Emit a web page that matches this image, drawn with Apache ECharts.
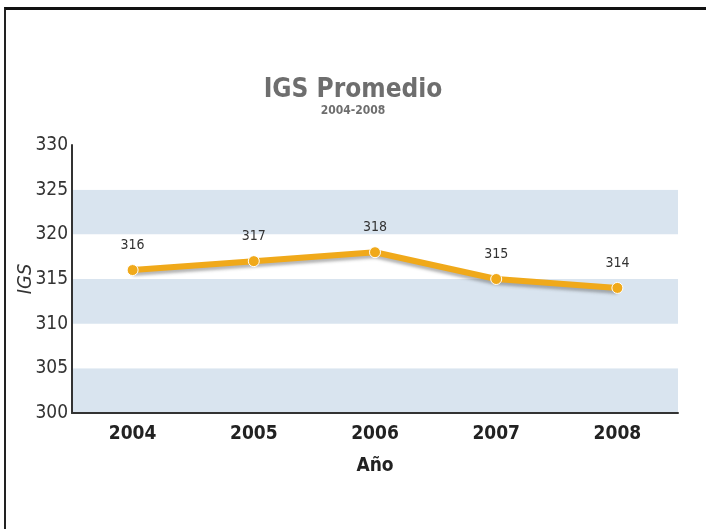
<!DOCTYPE html>
<html>
<head>
<meta charset="utf-8">
<script src="https://cdn.jsdelivr.net/npm/echarts@6/dist/echarts.min.js"></script>
<style>
  html, body { margin: 0; padding: 0; background: #fff; }
  #frame { position: absolute; left: 4px; top: 7px; width: 702px; height: 522px;
           border-top: 3px solid #111; border-left: 2px solid #222; box-sizing: border-box; }
  #chart { position: absolute; left: 0; top: 0; width: 706px; height: 529px; }
</style>
</head>
<body>
<div id="frame"></div>
<div id="chart"></div>
<script>
// datos del gráfico
const years = ['2004', '2005', '2006', '2007', '2008'];
const igs = [316, 317, 318, 315, 314];
const yMin = 300, yMax = 330, yStep = 5;

const narrow = "'DejaVu Sans Condensed', 'Liberation Sans Narrow', sans-serif";

const chart = echarts.init(document.getElementById('chart'));
chart.setOption({
  animation: false,
  title: {
    text: 'IGS Promedio',
    subtext: '2004-2008',
    left: 'center',
    top: 72,
    itemGap: 2,
    textStyle: { fontFamily: narrow, fontSize: 26, fontWeight: 'bold', color: '#6e6e6e' },
    subtextStyle: { fontFamily: narrow, fontSize: 12, fontWeight: 'bold', color: '#6e6e6e' }
  },
  grid: { left: 72, right: 28, top: 145, bottom: 116, outerBoundsMode: 'none' },
  xAxis: {
    type: 'category', data: years, boundaryGap: true,
    name: 'Año', nameLocation: 'middle', nameGap: 44,
    nameTextStyle: { fontFamily: narrow, fontSize: 19, fontWeight: 'bold', color: '#222' },
    axisLine: { lineStyle: { color: '#333', width: 2 } },
    axisTick: { show: false },
    axisLabel: { fontFamily: narrow, fontSize: 19, fontWeight: 'bold', color: '#222', margin: 12 }
  },
  yAxis: {
    type: 'value', min: yMin, max: yMax, interval: yStep,
    name: 'IGS', nameLocation: 'middle', nameGap: 36, nameRotate: 90, nameMoveOverlap: false,
    nameTextStyle: { fontFamily: narrow, fontSize: 20, fontStyle: 'italic', color: '#333' },
    axisLine: { show: true, lineStyle: { color: '#333', width: 2 } },
    axisTick: { show: false },
    axisLabel: { fontFamily: narrow, fontSize: 19, color: '#333', margin: 4 },
    splitLine: { show: false },
    splitArea: { show: true, areaStyle: { color: ['#d9e4ef', '#ffffff'] } }
  },
  series: [{
    type: 'line', data: igs,
    symbol: 'circle', symbolSize: 11,
    lineStyle: { color: '#f0a91a', width: 6, shadowColor: 'rgba(90,90,90,0.45)', shadowBlur: 3, shadowOffsetY: 3 },
    itemStyle: { color: '#f0a91a', borderColor: '#fff', borderWidth: 1 },
    label: { show: true, position: 'top', distance: 12, fontFamily: narrow, fontSize: 14, color: '#333' }
  }]
});
</script>
</body>
</html>
